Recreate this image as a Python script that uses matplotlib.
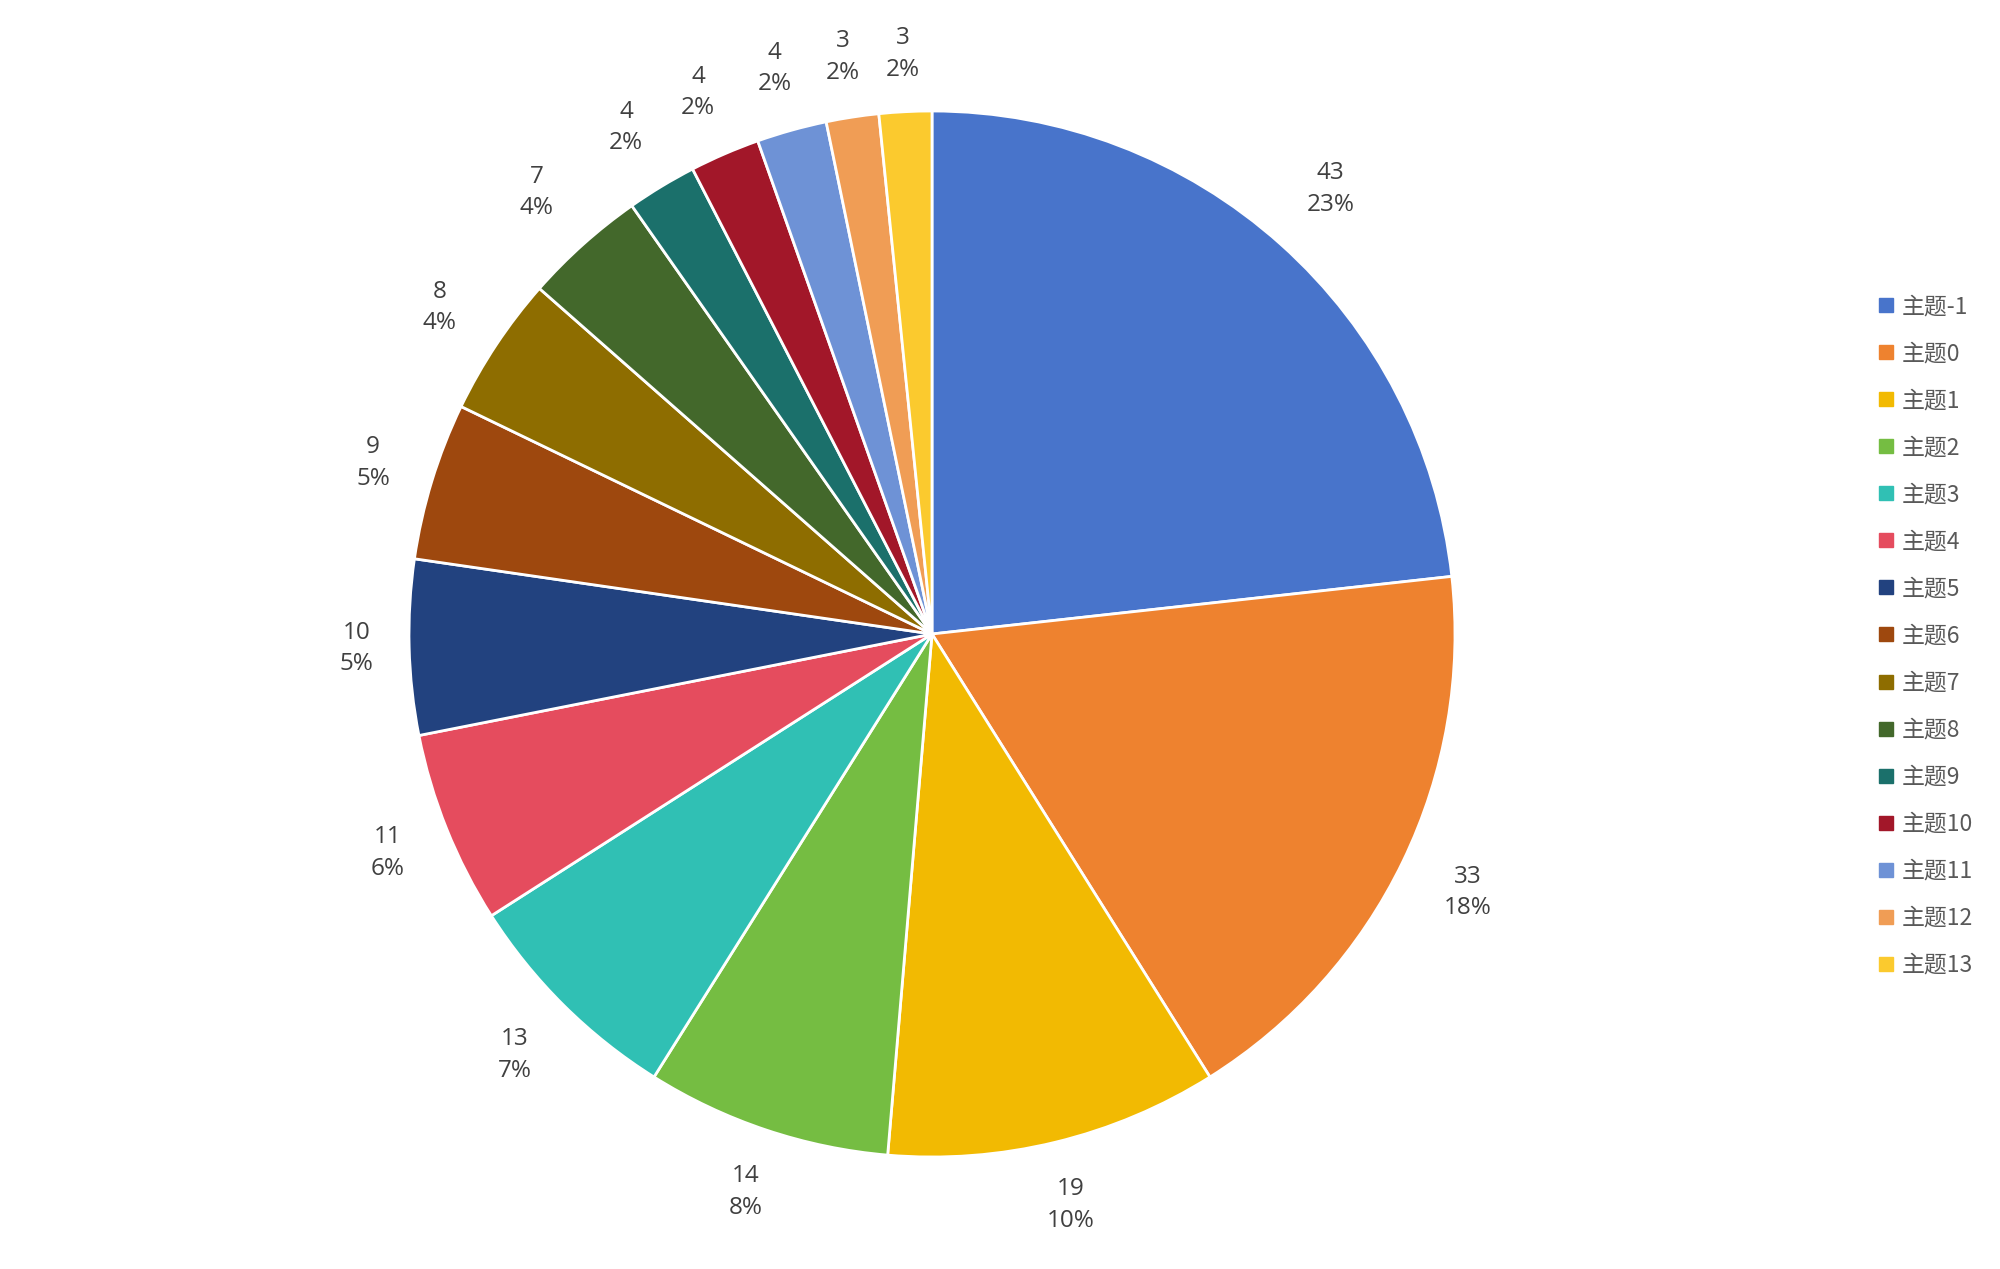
"""
Pie chart of topic counts (主题-1 .. 主题13)
"""

import numpy as np
import matplotlib
matplotlib.use('Agg')
from matplotlib import pyplot as plt
from matplotlib.lines import Line2D

plt.rcParams['font.family'] = ['Noto Sans CJK SC', 'DejaVu Sans']

topics = ['主题-1', '主题0', '主题1', '主题2', '主题3', '主题4', '主题5',
          '主题6', '主题7', '主题8', '主题9', '主题10', '主题11', '主题12',
          '主题13']
counts = [43, 33, 19, 14, 13, 11, 10, 9, 8, 7, 4, 4, 4, 3, 3]
colors = ['#4874CB', '#EE822F', '#F2BA02', '#75BD42', '#30C0B4', '#E54C5E',
          '#22427F', '#9E480E', '#8E6D00', '#43682B', '#1B706B', '#A21729',
          '#6E92D6', '#F09D55', '#FBCA2E']

W, H = 2000, 1269
cx, cy, r = 932, 634, 523

fig = plt.figure(figsize=(W / 100, H / 100), dpi=100)
ax = fig.add_axes([0, 0, 1, 1])

total = sum(counts)


def fmt(pct):
    n = int(round(pct * total / 100.0))
    return '%d\n%d%%' % (n, round(pct))


wedges, texts, autotexts = ax.pie(
    counts, colors=colors, startangle=90, counterclock=False,
    autopct=fmt, pctdistance=1.12,
    wedgeprops=dict(edgecolor='white', linewidth=2),
    textprops=dict(fontsize=17.5, color='#404040',
                   family=['Open Sans', 'DejaVu Sans'],
                   linespacing=1.42, ha='center', va='center'))

ax.set_xlim(-cx / r, (W - cx) / r)
ax.set_ylim(-(H - cy) / r, cy / r)
ax.axis('off')

# push each label out so that its box sits just outside the pie
fig.canvas.draw()
renderer = fig.canvas.get_renderer()
for w, t in zip(wedges, autotexts):
    bb = t.get_window_extent(renderer)
    hw, hh = bb.width / 2 / r, bb.height / 2 / r
    a = np.deg2rad((w.theta1 + w.theta2) / 2)
    d = (1.066 + hw * abs(np.cos(a)) + 0.78 * hh * abs(np.sin(a))
         + 0.015 * abs(np.sin(2 * a)))
    t.set_position((d * np.cos(a), d * np.sin(a)))

handles = [Line2D([], [], marker='s', linestyle='none', markersize=10,
                  markerfacecolor=c, markeredgecolor=c) for c in colors]
leg = ax.legend(handles, topics, loc='center left',
                bbox_to_anchor=(1868 / W, 1 - 636 / H),
                frameon=False, fontsize=16.5, labelcolor='#595959',
                handlelength=0.55, handletextpad=0.4, labelspacing=1.05,
                borderpad=0)

fig.savefig('out.png', dpi=100)
